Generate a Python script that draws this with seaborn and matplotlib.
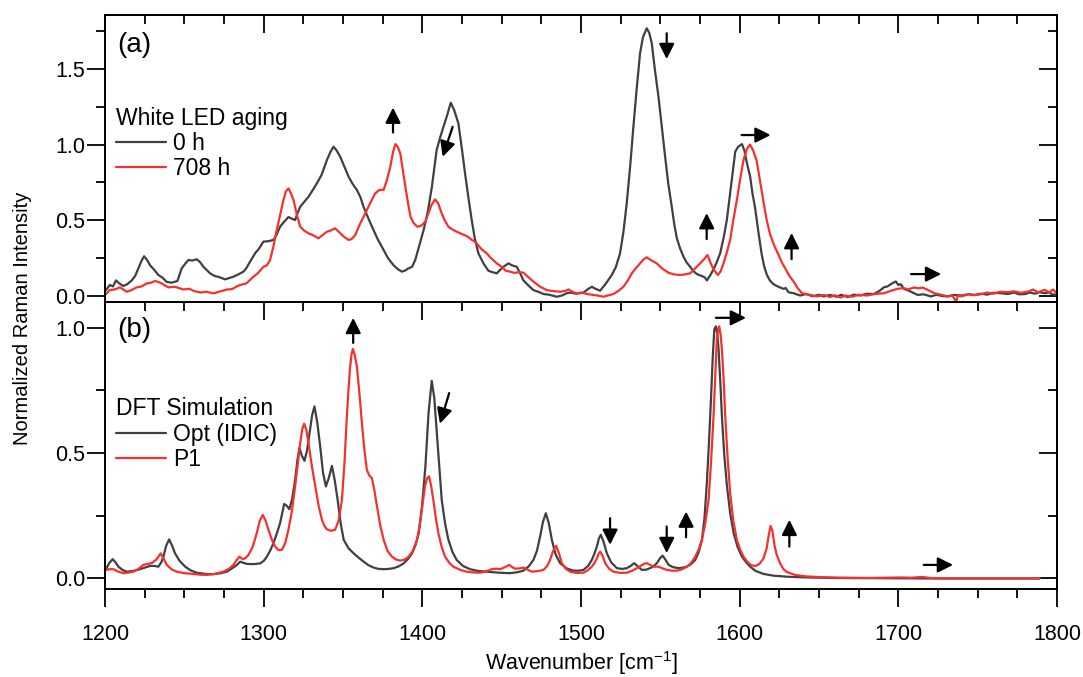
import numpy as np
import pandas as pd
import matplotlib
matplotlib.use("Agg")
import matplotlib.pyplot as plt
from matplotlib import font_manager
from matplotlib.ticker import MultipleLocator, FormatStrFormatter
import seaborn as sns

# ---- (a) white LED aging, measured spectra ----
wn_0h = [1200.6, 1203, 1205, 1206.9, 1209, 1211.5, 1214, 1216.8, 1219, 1221, 1223, 1224.6, 1226.5, 1228.4, 1231, 1233.6,
         1236, 1238.9, 1242, 1245.6, 1248.3, 1250.5, 1252.5, 1255, 1257.8, 1260, 1262, 1264, 1266.2, 1269, 1272.5, 1275.6,
         1278, 1281, 1284, 1287.2, 1289, 1291.4, 1294.6, 1297, 1299.8, 1303, 1306.1, 1308, 1310.3, 1313, 1315.6, 1317.5,
         1319.8, 1321.5, 1323, 1325.5, 1328.2, 1331, 1333.5, 1336.5, 1339.8, 1342, 1344, 1346, 1348.2, 1351, 1353.5, 1356,
         1358.7, 1361, 1362.9, 1366, 1369.2, 1372, 1375.6, 1378.5, 1381.9, 1384.5, 1387.1, 1389, 1391.3, 1393.5, 1395.5, 1398,
         1400.8, 1403.5, 1406, 1409, 1411, 1413.3, 1415.5, 1417.9, 1420, 1422.7, 1424.8, 1426.9, 1429, 1431.1, 1433, 1435.3,
         1438.5, 1441.6, 1444, 1446.9, 1449, 1451.1, 1454.2, 1456.5, 1459.5, 1461.5, 1463.7, 1467, 1470, 1473, 1476.3, 1480,
         1484.7, 1488, 1491, 1493.1, 1497, 1501.5, 1504, 1506.8, 1509, 1512, 1515, 1519.4, 1522, 1524.6, 1526.7, 1528.8,
         1531, 1533, 1535, 1537.2, 1539, 1541.4, 1543, 1544.6, 1546.5, 1548.8, 1551, 1553, 1555, 1557.2, 1558.8, 1560.4,
         1562.5, 1564.6, 1566.5, 1568.8, 1571, 1573, 1576.2, 1578, 1579.3, 1581.5, 1583.5, 1585.5, 1587.7, 1590, 1591.9, 1594.5,
         1597.2, 1599, 1601.4, 1603, 1604.5, 1606.6, 1608, 1609.7, 1611.8, 1613.9, 1615.5, 1617.1, 1619, 1621.3, 1624, 1627.6,
         1629, 1630.7, 1634, 1638.1, 1642, 1646, 1650, 1653, 1657, 1661, 1664, 1668, 1672, 1676, 1680, 1684.6,
         1688, 1691, 1693.1, 1696, 1698.4, 1700, 1701.5, 1703.6, 1707, 1710, 1712.1, 1716, 1720.5, 1724, 1728, 1731.1,
         1735, 1740, 1744, 1748, 1752, 1756, 1760, 1764.9, 1769, 1773, 1776, 1779.6, 1783, 1786, 1789, 1792.3,
         1795, 1797, 1799.7]
int_0h = [0.036, 0.07, 0.06, 0.10, 0.08, 0.063, 0.075, 0.10, 0.13, 0.18, 0.23, 0.26, 0.235, 0.20, 0.17, 0.136,
          0.12, 0.09, 0.085, 0.096, 0.18, 0.21, 0.235, 0.232, 0.24, 0.22, 0.19, 0.17, 0.147, 0.13, 0.12, 0.107,
          0.115, 0.125, 0.14, 0.158, 0.18, 0.224, 0.28, 0.31, 0.357, 0.36, 0.368, 0.40, 0.456, 0.49, 0.52, 0.51,
          0.50, 0.55, 0.588, 0.62, 0.654, 0.70, 0.743, 0.80, 0.897, 0.95, 0.986, 0.96, 0.92, 0.85, 0.787, 0.74,
          0.70, 0.65, 0.588, 0.51, 0.434, 0.37, 0.30, 0.245, 0.20, 0.175, 0.158, 0.165, 0.18, 0.19, 0.235, 0.33,
          0.434, 0.56, 0.72, 0.964, 1.04, 1.118, 1.19, 1.277, 1.23, 1.14, 0.98, 0.809, 0.65, 0.50, 0.38, 0.28,
          0.213, 0.164, 0.155, 0.147, 0.17, 0.19, 0.213, 0.20, 0.19, 0.15, 0.10, 0.065, 0.036, 0.025, 0.01, 0.005,
          -0.008, 0.0, 0.015, 0.019, 0.012, 0.019, 0.04, 0.058, 0.045, 0.032, 0.07, 0.136, 0.19, 0.28, 0.42, 0.61,
          0.86, 1.118, 1.36, 1.604, 1.71, 1.77, 1.74, 1.67, 1.50, 1.318, 1.11, 0.92, 0.74, 0.588, 0.47, 0.379,
          0.31, 0.257, 0.22, 0.19, 0.16, 0.142, 0.129, 0.12, 0.10, 0.135, 0.173, 0.22, 0.28, 0.39, 0.50, 0.72,
          0.953, 0.985, 1.003, 0.96, 0.88, 0.787, 0.68, 0.581, 0.42, 0.271, 0.19, 0.138, 0.10, 0.075, 0.06, 0.044,
          0.05, 0.022, 0.015, 0.0, 0.01, -0.005, 0.005, -0.006, 0.004, -0.008, 0.005, -0.01, 0.006, 0.0, 0.012, 0.01,
          0.03, 0.055, 0.06, 0.08, 0.093, 0.07, 0.075, 0.044, 0.03, 0.015, 0.004, 0.008, -0.006, 0.005, -0.004, -0.006,
          0.004, 0.0, 0.008, 0.004, 0.012, 0.006, 0.018, 0.015, 0.01, 0.02, 0.008, 0.009, 0.02, 0.012, 0.022, 0.015,
          0.02, 0.008, 0.004]

wn_708h = [1200.6, 1203, 1206, 1209.4, 1211.5, 1213.6, 1216.5, 1219.9, 1223, 1226.3, 1229, 1231.5, 1233.5, 1235.7, 1238, 1240,
           1244, 1249.4, 1253, 1256, 1260, 1264, 1268.4, 1272, 1276.8, 1280, 1283, 1285.2, 1289, 1293.6, 1296.5, 1299.8,
           1302, 1304, 1306, 1308.2, 1310.5, 1312.4, 1314, 1315.6, 1317, 1318.8, 1321, 1323, 1325.5, 1328.2, 1331, 1334.5,
           1337, 1339.8, 1342, 1345, 1346.5, 1348.2, 1350.5, 1353.5, 1355.5, 1357.7, 1360.5, 1364, 1367, 1370.3, 1373, 1375.6,
           1377.5, 1379.8, 1381.5, 1383, 1384.5, 1386.1, 1387.7, 1389.3, 1391, 1392.5, 1394.5, 1396.7, 1399, 1401.9, 1404, 1405.8,
           1408, 1410, 1412.2, 1414, 1416.4, 1418.5, 1421.6, 1424.5, 1427.9, 1431, 1434.2, 1437, 1440.5, 1443.5, 1446.9, 1450,
           1452.5, 1455.3, 1458, 1461, 1463.7, 1467, 1470, 1474, 1478.4, 1482, 1486.8, 1490, 1492.1, 1494.5, 1497.3, 1500,
           1503.6, 1507, 1510.5, 1514.1, 1517, 1520.4, 1523.5, 1526.7, 1529.5, 1532, 1534.5, 1537.2, 1539.5, 1541.4, 1544, 1547.7,
           1551, 1555.1, 1558.5, 1562.4, 1565.5, 1568.8, 1572, 1575.1, 1577.5, 1579.7, 1581.5, 1583.5, 1586.2, 1588, 1589.8, 1592,
           1594, 1596, 1598.2, 1600.3, 1602.4, 1604.5, 1606.5, 1608.5, 1610.7, 1612.8, 1614.9, 1617, 1619.2, 1621.8, 1624.4, 1626.5,
           1628.7, 1631.3, 1634, 1636.5, 1639.3, 1644, 1648.7, 1653, 1657, 1660, 1663.5, 1667, 1671, 1675, 1680.4, 1685,
           1691, 1695, 1699.4, 1703, 1706, 1710, 1713, 1715.3, 1719, 1722.7, 1727, 1731.1, 1734, 1736.4, 1737.5, 1739.6,
           1744, 1748, 1752.3, 1756, 1760, 1764, 1769.2, 1773, 1777, 1781.8, 1785, 1788, 1792.3, 1795, 1797.5, 1799.7]
int_708h = [0.01, 0.036, 0.04, 0.054, 0.04, 0.025, 0.035, 0.054, 0.06, 0.08, 0.085, 0.096, 0.09, 0.08, 0.065, 0.054,
            0.058, 0.04, 0.045, 0.03, 0.02, 0.025, 0.014, 0.025, 0.04, 0.042, 0.06, 0.07, 0.08, 0.125, 0.15, 0.19,
            0.20, 0.235, 0.32, 0.434, 0.54, 0.632, 0.69, 0.71, 0.68, 0.632, 0.53, 0.456, 0.43, 0.412, 0.40, 0.379,
            0.40, 0.423, 0.43, 0.445, 0.43, 0.412, 0.39, 0.368, 0.375, 0.401, 0.47, 0.544, 0.61, 0.677, 0.70, 0.70,
            0.76, 0.853, 0.95, 1.003, 0.985, 0.94, 0.83, 0.72, 0.61, 0.522, 0.48, 0.456, 0.46, 0.489, 0.55, 0.60,
            0.637, 0.61, 0.544, 0.50, 0.456, 0.44, 0.423, 0.41, 0.394, 0.37, 0.346, 0.31, 0.28, 0.245, 0.213, 0.19,
            0.165, 0.158, 0.15, 0.155, 0.151, 0.12, 0.092, 0.06, 0.036, 0.03, 0.025, 0.03, 0.04, 0.025, 0.014, 0.02,
            0.01, 0.005, 0.0, -0.008, 0.0, 0.01, 0.03, 0.058, 0.10, 0.147, 0.18, 0.213, 0.24, 0.253, 0.235, 0.213,
            0.18, 0.151, 0.14, 0.136, 0.14, 0.147, 0.18, 0.213, 0.24, 0.268, 0.22, 0.173, 0.136, 0.16, 0.213, 0.29,
            0.368, 0.50, 0.632, 0.77, 0.897, 0.97, 1.0, 0.96, 0.893, 0.76, 0.626, 0.50, 0.404, 0.33, 0.271, 0.22,
            0.18, 0.13, 0.093, 0.05, 0.015, 0.005, -0.006, 0.004, -0.01, 0.002, -0.013, 0.0, -0.008, 0.005, 0.0, 0.01,
            0.015, 0.03, 0.044, 0.05, 0.04, 0.053, 0.048, 0.053, 0.035, 0.015, 0.005, -0.006, 0.0, -0.04, 0.0, -0.006,
            0.008, 0.002, 0.009, 0.02, 0.012, 0.025, 0.022, 0.028, 0.018, 0.026, 0.04, 0.022, 0.038, 0.02, 0.04, 0.015]

# ---- (b) DFT simulated spectra ----
wn_opt = [1200.6, 1202.5, 1204.8, 1206.5, 1208.4, 1211, 1213.6, 1218, 1222.1, 1225.5, 1228.4, 1231, 1233.6, 1235.5, 1236.8, 1238.5,
          1240.4, 1242.3, 1244.1, 1247, 1250.5, 1254, 1257.8, 1263, 1268.4, 1273, 1276.8, 1280, 1283.1, 1285.2, 1287.3, 1289.4,
          1293.5, 1297.8, 1300, 1302, 1304, 1306.1, 1308.3, 1310.3, 1312.9, 1314.5, 1316.2, 1318, 1319.8, 1321.2, 1322.5, 1324,
          1325.7, 1327.3, 1328.9, 1330.5, 1332, 1333.8, 1335.6, 1337.4, 1339.2, 1341, 1343, 1344.8, 1346.6, 1348.5, 1350.4, 1353.5,
          1356.7, 1360, 1363, 1366, 1369.4, 1372.5, 1375.6, 1378.7, 1381.9, 1385, 1388.2, 1391, 1393.5, 1395.8, 1397.7, 1399.8,
          1401.9, 1403.9, 1405.9, 1407.5, 1409.1, 1410.7, 1412.2, 1414.3, 1416.4, 1419, 1421.6, 1425.5, 1430, 1435, 1440.5, 1448,
          1455.3, 1460, 1463.7, 1467, 1470, 1472.2, 1474.2, 1476, 1477.8, 1479.7, 1481.6, 1484, 1486.8, 1491, 1495.2, 1498.5,
          1501.5, 1504.5, 1506.8, 1508.5, 1510, 1511.3, 1512.5, 1514, 1516.3, 1519, 1522.6, 1526, 1528.9, 1531.3, 1533.5, 1535.8,
          1538.4, 1541, 1543.6, 1546, 1547.8, 1549.7, 1551.4, 1553.2, 1555.2, 1558, 1561.5, 1564, 1566.7, 1569.5, 1572, 1574.2,
          1576.2, 1577.8, 1579.3, 1580.7, 1581.9, 1583, 1584, 1585, 1585.9, 1586.7, 1587.8, 1588.8, 1590.3, 1592, 1594, 1596.2,
          1598.7, 1601.4, 1604, 1606.6, 1610, 1615, 1621.3, 1630, 1642.4, 1660, 1684.7, 1720, 1760, 1789]
int_opt = [0.037, 0.06, 0.077, 0.065, 0.047, 0.034, 0.027, 0.03, 0.037, 0.044, 0.05, 0.05, 0.047, 0.065, 0.087, 0.13,
           0.156, 0.13, 0.10, 0.07, 0.047, 0.032, 0.023, 0.018, 0.017, 0.021, 0.027, 0.04, 0.054, 0.067, 0.062, 0.058,
           0.057, 0.06, 0.07, 0.087, 0.11, 0.14, 0.18, 0.22, 0.297, 0.29, 0.276, 0.32, 0.393, 0.47, 0.52, 0.49,
           0.469, 0.51, 0.579, 0.65, 0.686, 0.62, 0.526, 0.42, 0.367, 0.40, 0.449, 0.39, 0.313, 0.22, 0.154, 0.12,
           0.10, 0.082, 0.067, 0.053, 0.043, 0.038, 0.037, 0.038, 0.041, 0.048, 0.06, 0.078, 0.10, 0.135, 0.18, 0.29,
           0.446, 0.66, 0.788, 0.72, 0.58, 0.44, 0.313, 0.22, 0.154, 0.105, 0.074, 0.05, 0.037, 0.03, 0.027, 0.023,
           0.021, 0.025, 0.031, 0.048, 0.074, 0.11, 0.167, 0.225, 0.26, 0.22, 0.154, 0.095, 0.061, 0.04, 0.031, 0.031,
           0.034, 0.05, 0.074, 0.10, 0.127, 0.16, 0.174, 0.15, 0.10, 0.064, 0.041, 0.038, 0.041, 0.05, 0.061, 0.048,
           0.034, 0.035, 0.041, 0.05, 0.061, 0.08, 0.091, 0.075, 0.054, 0.045, 0.041, 0.043, 0.047, 0.058, 0.074, 0.105,
           0.154, 0.24, 0.38, 0.55, 0.713, 0.88, 0.992, 1.005, 0.975, 0.912, 0.78, 0.646, 0.49, 0.367, 0.26, 0.18,
           0.125, 0.087, 0.065, 0.047, 0.03, 0.018, 0.011, 0.007, 0.004, 0.002, 0.001, 0.0, 0.0, 0.0]

wn_p1 = [1200.6, 1203, 1205.2, 1208, 1211.5, 1214.5, 1217.8, 1221, 1224.1, 1226.8, 1229.4, 1232.3, 1235.1, 1237, 1238.9, 1242,
         1245.2, 1250, 1255.7, 1260, 1264.1, 1269, 1274.6, 1278, 1280.9, 1282.8, 1284.7, 1286, 1287.2, 1288.8, 1290.4, 1293,
         1295.6, 1297.5, 1299.4, 1301.2, 1303, 1305.1, 1307.2, 1309.3, 1311.4, 1313.5, 1315.6, 1317.8, 1319.8, 1321.5, 1323, 1324.3,
         1325.5, 1326.8, 1328.2, 1330.3, 1332.5, 1334.6, 1336.7, 1338.2, 1339.8, 1342.4, 1345, 1347.2, 1349.3, 1350.9, 1352.4, 1353.5,
         1354.5, 1355.4, 1356.2, 1357.4, 1358.7, 1360.3, 1361.9, 1363.5, 1365, 1366.6, 1368.2, 1369.8, 1371.4, 1373.5, 1375.6, 1378,
         1380.8, 1383.5, 1386.1, 1388.7, 1391.3, 1394, 1396.6, 1398.3, 1399.8, 1401.7, 1403, 1404.2, 1405.5, 1406.9, 1408.5, 1410.1,
         1412.2, 1414.3, 1417, 1419.5, 1424, 1427.9, 1432, 1436.3, 1440, 1443.7, 1446.5, 1449, 1452, 1454.7, 1456.5, 1458.4,
         1461, 1463.7, 1466.3, 1469, 1472.5, 1476.3, 1478.5, 1480.5, 1482.4, 1484.3, 1486.1, 1487.9, 1490.5, 1493.1, 1497, 1501.5,
         1504.2, 1506.8, 1508.5, 1510, 1511, 1512.1, 1513.6, 1515.2, 1517.8, 1520.5, 1524.7, 1528.9, 1532, 1535.2, 1538.4, 1540,
         1541.5, 1543.6, 1545.7, 1548.8, 1551.5, 1554.1, 1557.3, 1560.4, 1563.5, 1566.7, 1569.4, 1572, 1574.1, 1576.2, 1578.3, 1580.4,
         1582, 1583.5, 1584.6, 1585.6, 1586.4, 1587.1, 1588, 1588.8, 1589.9, 1590.9, 1592.4, 1594, 1596, 1598.2, 1600.3, 1602.4,
         1605, 1607.4, 1610, 1612.5, 1615, 1617, 1618.5, 1619.5, 1620.6, 1622, 1623.3, 1625.5, 1627.5, 1629.6, 1635, 1642.3,
         1652, 1663.5, 1680, 1701.4, 1708, 1715.1, 1720, 1726.7, 1760, 1789]
int_p1 = [0.034, 0.037, 0.037, 0.028, 0.021, 0.023, 0.027, 0.038, 0.054, 0.058, 0.061, 0.075, 0.10, 0.078, 0.054, 0.036,
          0.027, 0.021, 0.018, 0.015, 0.014, 0.018, 0.027, 0.038, 0.054, 0.072, 0.087, 0.08, 0.077, 0.083, 0.094, 0.125,
          0.18, 0.23, 0.253, 0.23, 0.194, 0.155, 0.127, 0.113, 0.114, 0.14, 0.194, 0.27, 0.367, 0.46, 0.54, 0.595,
          0.617, 0.595, 0.54, 0.45, 0.367, 0.29, 0.234, 0.21, 0.196, 0.19, 0.194, 0.23, 0.313, 0.46, 0.646, 0.76,
          0.846, 0.895, 0.915, 0.89, 0.846, 0.74, 0.619, 0.51, 0.433, 0.41, 0.40, 0.35, 0.287, 0.21, 0.154, 0.11,
          0.087, 0.075, 0.071, 0.075, 0.087, 0.11, 0.154, 0.21, 0.28, 0.37, 0.40, 0.407, 0.37, 0.313, 0.24, 0.18,
          0.125, 0.087, 0.062, 0.047, 0.034, 0.027, 0.024, 0.023, 0.028, 0.037, 0.039, 0.037, 0.045, 0.054, 0.046, 0.039,
          0.04, 0.043, 0.035, 0.027, 0.029, 0.034, 0.048, 0.074, 0.11, 0.13, 0.10, 0.061, 0.038, 0.027, 0.022, 0.023,
          0.032, 0.047, 0.062, 0.08, 0.097, 0.107, 0.09, 0.061, 0.038, 0.027, 0.022, 0.023, 0.03, 0.041, 0.053, 0.059,
          0.061, 0.054, 0.047, 0.047, 0.04, 0.034, 0.031, 0.031, 0.036, 0.047, 0.062, 0.087, 0.115, 0.154, 0.22, 0.313,
          0.47, 0.646, 0.81, 0.952, 0.995, 1.005, 0.97, 0.912, 0.79, 0.646, 0.48, 0.34, 0.23, 0.154, 0.115, 0.087,
          0.065, 0.052, 0.05, 0.058, 0.08, 0.12, 0.18, 0.209, 0.19, 0.13, 0.095, 0.06, 0.038, 0.026, 0.014, 0.008,
          0.005, 0.003, 0.002, 0.004, 0.003, 0.006, 0.002, 0.0, 0.0, 0.0]

# arrows (tail -> head) marking the changes
arrows_a = [((1381.5, 1.08), (1381.5, 1.245)), ((1419.1, 1.118), (1412.8, 0.919)),
            ((1554, 1.737), (1554, 1.566)), ((1601.2, 1.063), (1619.5, 1.063)),
            ((1579.2, 0.374), (1579.2, 0.546)), ((1632.7, 0.241), (1632.7, 0.414)),
            ((1708, 0.142), (1727, 0.142))]
arrows_b = [((1356.4, 0.939), (1356.4, 1.039)), ((1416.9, 0.739), (1411.1, 0.617)),
            ((1518.3, 0.240), (1518.3, 0.134)), ((1554, 0.207), (1554, 0.101)),
            ((1566.2, 0.164), (1566.2, 0.267)), ((1585, 1.039), (1604, 1.039)),
            ((1631.3, 0.127), (1631.3, 0.234)), ((1716, 0.054), (1734.5, 0.054))]

GREY = "#404040"
RED = "#f5312d"

sns.set_theme(style="ticks")
plt.rcParams["font.family"] = ["Liberation Sans", "DejaVu Sans"]
plt.rcParams.update({"axes.linewidth": 1.4, "axes.edgecolor": "black", "text.color": "black",
                     "axes.labelcolor": "black", "xtick.color": "black", "ytick.color": "black"})

# the original axis titles use a condensed face; use it if it is installed
installed = {f.name for f in font_manager.fontManager.ttflist}
if "Liberation Sans Narrow" in installed:
    narrow, narrow_size = "Liberation Sans Narrow", 18
else:
    narrow, narrow_size = "Liberation Sans", 15.5

fig = plt.figure(figsize=(10.83, 6.77), dpi=100)
ax_a = fig.add_axes([0.097, 0.5539, 0.879, 0.4239])
ax_b = fig.add_axes([0.097, 0.1300, 0.879, 0.4239])

df_a0 = pd.DataFrame({"wn": wn_0h, "I": int_0h})
df_a1 = pd.DataFrame({"wn": wn_708h, "I": int_708h})
df_b0 = pd.DataFrame({"wn": wn_opt, "I": int_opt})
df_b1 = pd.DataFrame({"wn": wn_p1, "I": int_p1})

sns.lineplot(data=df_a0, x="wn", y="I", ax=ax_a, color=GREY, lw=1.6, estimator=None, label="0 h")
sns.lineplot(data=df_a1, x="wn", y="I", ax=ax_a, color=RED, lw=1.6, estimator=None, label="708 h")
sns.lineplot(data=df_b0, x="wn", y="I", ax=ax_b, color=GREY, lw=1.6, estimator=None, label="Opt (IDIC)")
sns.lineplot(data=df_b1, x="wn", y="I", ax=ax_b, color=RED, lw=1.6, estimator=None, label="P1")

ax_a.set_xlim(1200, 1800)
ax_b.set_xlim(1200, 1800)
ax_a.set_ylim(-0.043, 1.858)
ax_b.set_ylim(-0.042, 1.102)

for ax in (ax_a, ax_b):
    ax.set_xlabel("")
    ax.set_ylabel("")
    ax.xaxis.set_major_locator(MultipleLocator(100))
    ax.xaxis.set_minor_locator(MultipleLocator(25))
    ax.yaxis.set_major_locator(MultipleLocator(0.5))
    ax.yaxis.set_minor_locator(MultipleLocator(0.25))
    ax.yaxis.set_major_formatter(FormatStrFormatter("%.1f"))
    ax.tick_params(axis="y", which="both", direction="out", left=True, right=False,
                   labelsize=15.5, width=1.3, pad=1)
    ax.tick_params(axis="y", which="major", length=13)
    ax.tick_params(axis="y", which="minor", length=6.5)
    # right side ticks point inwards
    sec = ax.secondary_yaxis("right")
    sec.yaxis.set_major_locator(MultipleLocator(0.5))
    sec.yaxis.set_minor_locator(MultipleLocator(0.25))
    sec.tick_params(which="both", direction="in", labelright=False, width=1.3)
    sec.tick_params(which="major", length=13)
    sec.tick_params(which="minor", length=6.5)
    sec.spines["right"].set_linewidth(1.4)
    # top ticks point inwards
    sect = ax.secondary_xaxis("top")
    sect.xaxis.set_major_locator(MultipleLocator(100))
    sect.xaxis.set_minor_locator(MultipleLocator(25))
    sect.tick_params(which="both", direction="in", labeltop=False, width=1.3)
    sect.tick_params(which="major", length=13)
    sect.tick_params(which="minor", length=6.5)
    sect.spines["top"].set_linewidth(1.4)

ax_a.tick_params(axis="x", which="both", bottom=False, labelbottom=False)
ax_b.tick_params(axis="x", which="both", direction="out", bottom=True, width=1.3,
                 labelsize=narrow_size, pad=12)
ax_b.tick_params(axis="x", which="major", length=13)
ax_b.tick_params(axis="x", which="minor", length=6.5)
for lab in ax_b.get_xticklabels():
    lab.set_fontfamily([narrow, "DejaVu Sans"])

ax_b.set_xlabel("Wavenumber [cm$^{\\mathregular{-1}}$]", fontsize=narrow_size,
                fontfamily=[narrow, "DejaVu Sans"], labelpad=3)
fig.text(0.021, 0.53, "Normalized Raman Intensity", rotation=90, ha="center", va="center",
         fontsize=narrow_size - 1, fontfamily=[narrow, "DejaVu Sans"])

ax_a.text(0.013, 0.895, "(a)", transform=ax_a.transAxes, fontsize=20, va="center", ha="left")
ax_b.text(0.013, 0.902, "(b)", transform=ax_b.transAxes, fontsize=20, va="center", ha="left")

leg_kw = dict(loc="upper left", frameon=False, fontsize=16.5, title_fontsize=16.5,
              handlelength=2.2, handletextpad=0.3, labelspacing=0.1, borderpad=0,
              borderaxespad=0, alignment="left")
ax_a.legend(title="White LED aging", bbox_to_anchor=(0.011, 0.68), **leg_kw)
ax_b.legend(title="DFT Simulation", bbox_to_anchor=(0.011, 0.668), **leg_kw)

arrow_style = dict(arrowstyle="-|>", color="black", lw=1.6, mutation_scale=23, shrinkA=0, shrinkB=0)
for ax, arrows in ((ax_a, arrows_a), (ax_b, arrows_b)):
    for tail, head in arrows:
        ax.annotate("", xy=head, xytext=tail, arrowprops=arrow_style)

fig.savefig("out.png", dpi=100)
